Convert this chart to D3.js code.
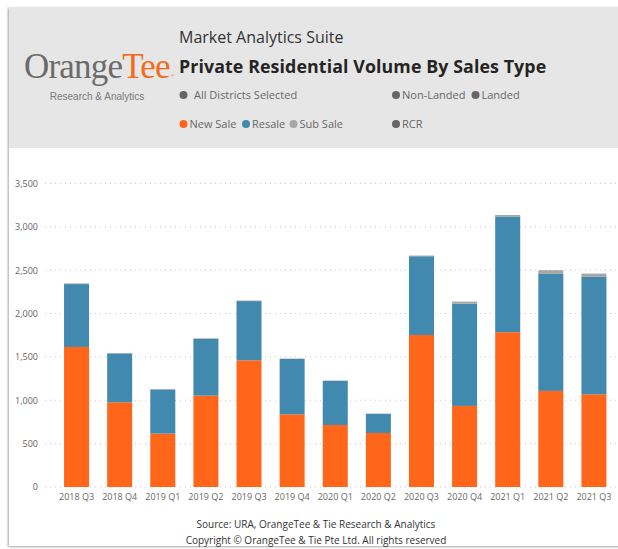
<!DOCTYPE html>
<html>
<head>
<meta charset="utf-8">
<script src="https://cdn.jsdelivr.net/npm/d3@7"></script>
<style>
  html, body { margin: 0; padding: 0; background: #ffffff; }
  svg { display: block; }
  text { font-family: "Open Sans", "Noto Sans", sans-serif; }
</style>
</head>
<body>
<svg id="chart" width="618" height="549"></svg>
<script>
// ---- data ----
const categories = ["2018 Q3","2018 Q4","2019 Q1","2019 Q2","2019 Q3","2019 Q4","2020 Q1","2020 Q2","2020 Q3","2020 Q4","2021 Q1","2021 Q2","2021 Q3"];
const newSale = [1615, 977, 616, 1054, 1461, 838, 715, 623, 1753, 935, 1785, 1108, 1069];
const resale  = [725, 563, 508, 655, 683, 638, 508, 220, 908, 1180, 1330, 1349, 1354];
const subSale = [8, 6, 6, 6, 6, 5, 5, 4, 8, 23, 22, 43, 38];
const yTicks = [0, 500, 1000, 1500, 2000, 2500, 3000, 3500];
const seriesNames = ["New Sale", "Resale", "Sub Sale"];
const seriesColors = ["#FF661A", "#4189AE", "#A6A6A6"];

const svg = d3.select("#chart");

// card with shadow
const defs = svg.append("defs");
const f = defs.append("filter").attr("id", "sh").attr("x", -0.05).attr("y", -0.05).attr("width", 1.1).attr("height", 1.1);
f.append("feDropShadow").attr("dx", -1).attr("dy", 1).attr("stdDeviation", 1.2).attr("flood-color", "#000").attr("flood-opacity", 0.35);

svg.append("rect").attr("x", 9).attr("y", 7).attr("width", 640).attr("height", 539)
  .attr("fill", "#ffffff").attr("filter", "url(#sh)");
svg.append("rect").attr("x", 9).attr("y", 7).attr("width", 640).attr("height", 141)
  .attr("fill", "#E6E6E6");

// ---- header ----
const logo = svg.append("text").attr("x", 24).attr("y", 78)
  .style("font-family", "'Liberation Serif', 'DejaVu Serif', serif")
  .style("font-size", "35px").attr("letter-spacing", -0.8);
logo.append("tspan").attr("fill", "#6B6B6B").text("Orange");
logo.append("tspan").attr("fill", "#F26A1B").text("Tee");
logo.append("tspan").attr("fill", "#F26A1B").style("font-size", "5px").attr("dy", -1).attr("dx", 1).text("®");

svg.append("text").attr("x", 97).attr("y", 100).attr("text-anchor", "middle")
  .attr("fill", "#7A7A7A").style("font-family", "'Liberation Sans', Arial, sans-serif")
  .style("font-size", "10px").text("Research & Analytics");

svg.append("text").attr("x", 179).attr("y", 43).attr("fill", "#333333")
  .style("font-size", "16px").text("Market Analytics Suite");
svg.append("text").attr("x", 179).attr("y", 72.5).attr("fill", "#252423")
  .style("font-size", "17.8px").style("font-weight", "bold").attr("letter-spacing", 0.1)
  .text("Private Residential Volume By Sales Type");

const legendItems = [
  {label: "All Districts Selected", cx: 183.5, tx: 194, cy: 95, color: "#666666"},
  {label: "Non-Landed", cx: 396, tx: 402, cy: 95, color: "#666666"},
  {label: "Landed", cx: 475.5, tx: 481.5, cy: 95, color: "#666666"},
  {label: seriesNames[0], cx: 183.5, tx: 189.5, cy: 124, color: seriesColors[0]},
  {label: seriesNames[1], cx: 246, tx: 252, cy: 124, color: seriesColors[1]},
  {label: seriesNames[2], cx: 293.5, tx: 299.5, cy: 124, color: seriesColors[2]},
  {label: "RCR", cx: 396, tx: 402, cy: 124, color: "#666666"}
];
const lg = svg.append("g");
lg.selectAll("circle").data(legendItems).join("circle")
  .attr("cx", d => d.cx).attr("cy", d => d.cy).attr("r", 4).attr("fill", d => d.color);
lg.selectAll("text").data(legendItems).join("text")
  .attr("x", d => d.tx).attr("y", d => d.cy + 4).attr("fill", "#666666")
  .style("font-size", "11px").text(d => d.label);

// ---- chart ----
const x = d3.scaleBand().domain(categories).range([55, 615.5]).paddingInner(0.42).paddingOuter(0.21);
const y = d3.scaleLinear().domain([0, 3500]).range([487, 183.5]);

// grid
svg.append("g").selectAll("line").data(yTicks).join("line")
  .attr("x1", 45).attr("x2", 618).attr("y1", d => y(d)).attr("y2", d => y(d))
  .attr("stroke", "#C8C8C8").attr("stroke-width", 1).attr("stroke-dasharray", "1,4");

// y axis labels
const yAxis = svg.append("g").attr("transform", "translate(38,0)")
  .call(d3.axisLeft(y).tickValues(yTicks).tickFormat(d3.format(",")).tickSize(0).tickPadding(0));
yAxis.select(".domain").remove();
yAxis.selectAll("text").attr("fill", "#666666").style("font-size", "9px")
  .style("font-family", "'Open Sans', sans-serif");

// x axis labels
const xAxis = svg.append("g").attr("transform", "translate(0,491)")
  .call(d3.axisBottom(x).tickSize(0).tickPadding(3));
xAxis.select(".domain").remove();
xAxis.selectAll("text").attr("fill", "#666666").style("font-size", "9px")
  .style("font-family", "'Open Sans', sans-serif");

// stacked bars
const rows = categories.map((c, i) => ({cat: c, "New Sale": newSale[i], "Resale": resale[i], "Sub Sale": subSale[i]}));
const stack = d3.stack().keys(seriesNames)(rows);
svg.append("g").selectAll("g").data(stack).join("g")
  .attr("fill", (d, i) => seriesColors[i])
  .selectAll("rect").data(d => d).join("rect")
  .attr("x", d => x(d.data.cat)).attr("width", x.bandwidth())
  .attr("y", d => y(d[1])).attr("height", d => y(d[0]) - y(d[1]));

// footer
svg.append("text").attr("x", 316).attr("y", 528).attr("text-anchor", "middle")
  .attr("fill", "#333333").style("font-size", "10px").text("Source: URA, OrangeTee & Tie Research & Analytics");
svg.append("text").attr("x", 316).attr("y", 544).attr("text-anchor", "middle")
  .attr("fill", "#333333").style("font-size", "10px").text("Copyright © OrangeTee & Tie Pte Ltd. All rights reserved");
</script>
</body>
</html>
